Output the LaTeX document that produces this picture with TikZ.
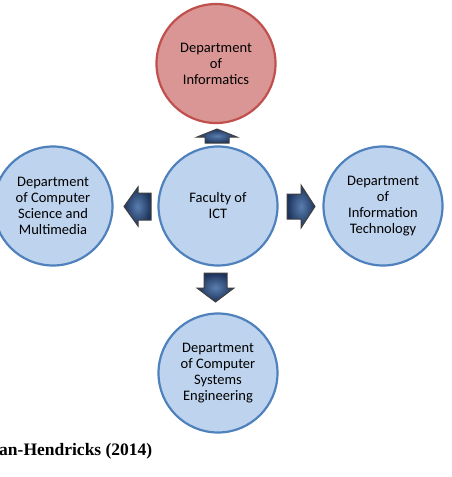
\documentclass[tikz,border=0pt]{standalone}
\usepackage{fontspec}
\setmainfont{Carlito}
\newfontfamily\capfont{Liberation Serif}
\definecolor{deptfill}{RGB}{190,211,238}
\definecolor{deptline}{RGB}{79,129,189}
\definecolor{infofill}{RGB}{217,150,148}
\definecolor{infoline}{RGB}{192,80,77}
\definecolor{arrnavy}{RGB}{28,50,90}
\definecolor{arrlight}{RGB}{90,126,176}
\tikzset{dept/.style={circle,draw=deptline,fill=deptfill,line width=2.2pt,minimum size=119pt,inner sep=0pt,align=center,font=\fontsize{14.5}{16}\selectfont}}
\tikzset{blockarr/.style={draw=black!75,line width=1pt,line join=miter,inner color=arrlight,outer color=arrnavy}}
\begin{document}
\begin{tikzpicture}[x=1pt,y=-1pt]
\useasboundingbox(0,0)rectangle(451,477);
\node(fac)[dept]at(218,206){Faculty of\\ICT};
\node(inf)[dept,draw=infoline,fill=infofill]at(216,63.5){Department\\of\\Informatics};
\node(csm)[dept]at(53,206){Department\\of Computer\\Science and\\Multimedia};
\node(it)[dept]at(383,206){Department\\of\\Information\\Technology};
\node(cse)[dept]at(218,373){Department\\of Computer\\Systems\\Engineering};
% block arrows between the circles
\draw[blockarr](217,129)--(237,137)--(229,137)--(229,143)--(205,143)--(205,137)--(197,137)--cycle;
\draw[blockarr](124,206.5)--(138,187)--(138,193)--(151,193)--(151,220)--(138,220)--(138,226)--cycle;
\draw[blockarr](315,206.5)--(301,185)--(301,194)--(287,194)--(287,219)--(301,219)--(301,228)--cycle;
\draw[blockarr](215.5,302)--(197,288)--(204,288)--(204,273)--(227,273)--(227,288)--(234,288)--cycle;
\node(cap)[anchor=base west,inner sep=0pt,font=\capfont\bfseries\fontsize{17.5}{20}\selectfont]at(-1,455){an-Hendricks (2014)};
\end{tikzpicture}
\end{document}
